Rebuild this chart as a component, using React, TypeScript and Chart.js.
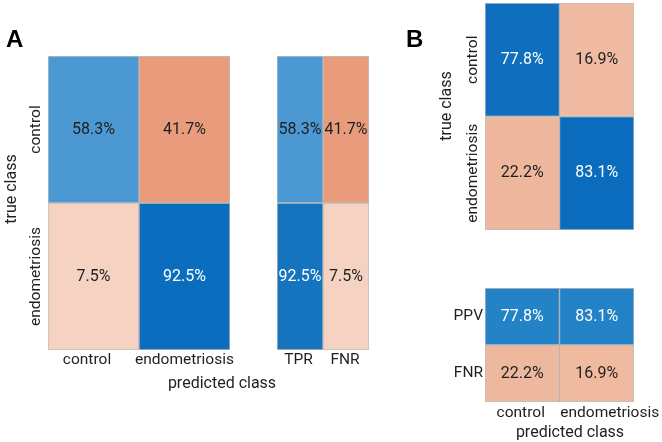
import React, { useEffect, useRef } from "react";
import { Chart, registerables } from "chart.js";

Chart.register(...registerables);

// ---------------- data ----------------
const classes = ["control", "endometriosis"];
const aMatrix = [
  [58.3, 41.7],
  [7.5, 92.5],
];
const aRateLabels = ["TPR", "FNR"];
const aRates = [
  [58.3, 41.7],
  [92.5, 7.5],
];
const bMatrix = [
  [77.8, 16.9],
  [22.2, 83.1],
];
const bRowLabels = ["PPV", "FNR"];
const bPred = [
  [77.8, 83.1],
  [22.2, 16.9],
];

// ---------------- styles ----------------
const aMatrixColors = [
  ["#4b98d2", "#e99c7c"],
  ["#f6d2c3", "#0b6dbd"],
];
const aRateColors = [
  ["#4b98d2", "#e99c7c"],
  ["#1474be", "#f6d2c3"],
];
const bMatrixColors = [
  ["#0f6fbe", "#f0bba2"],
  ["#eeb79d", "#0b6cbd"],
];
const bPredColors = [
  ["#2482c6", "#2381c5"],
  ["#eeb89e", "#f0baa1"],
];

const W = 662;
const H = 442;
const LABEL_FONT = "15.5px Roboto";
const TITLE_FONT = "16px Roboto";
const CELL_FONT = "16px Roboto";
const TEXT = "#1f1f1f";

type Txt = { text: string; x: number; y: number; font: string; rot?: boolean; align?: CanvasTextAlign; base?: CanvasTextBaseline };

type HeatCfg = {
  values: number[][];
  colors: string[][];
  colLabels: string[];
  showColLabels: boolean;
  colLabelDx?: number[];
  colLabelGap: number;
  rowLabels?: string[];
  rowLabelMode?: "rotated" | "right";
  area: { left: number; right: number; top: number; bottom: number };
  extra: Txt[];
};

function isDark(hex: string) {
  const r = parseInt(hex.slice(1, 3), 16);
  const g = parseInt(hex.slice(3, 5), 16);
  const b = parseInt(hex.slice(5, 7), 16);
  return 0.299 * r + 0.587 * g + 0.114 * b < 130;
}

function makeHeatmap(canvas: HTMLCanvasElement, cfg: HeatCfg) {
  const nRows = cfg.values.length;
  const datasets = cfg.values.map((row, r) => ({
    label: "row" + r,
    data: row.map(() => [r, r + 1] as [number, number]),
    backgroundColor: cfg.colors[r],
    borderColor: "rgba(110,110,110,0.45)",
    borderWidth: 1,
    borderSkipped: false as const,
    grouped: false,
    categoryPercentage: 1,
    barPercentage: 1,
  }));

  const textPlugin = {
    id: "heatText",
    afterDatasetsDraw(chart: any) {
      const ctx: CanvasRenderingContext2D = chart.ctx;
      const xs = chart.scales.x;
      const ys = chart.scales.y;
      const ca = chart.chartArea;
      ctx.save();
      // cell values
      cfg.values.forEach((row, r) => {
        const meta = chart.getDatasetMeta(r);
        row.forEach((v, c) => {
          const el = meta.data[c];
          const p = el.getProps(["x", "y", "base"], true);
          ctx.font = CELL_FONT;
          ctx.fillStyle = isDark(cfg.colors[r][c]) ? "#ffffff" : TEXT;
          ctx.textAlign = "center";
          ctx.textBaseline = "middle";
          ctx.fillText(v.toFixed(1) + "%", p.x, (p.y + p.base) / 2);
        });
      });
      // column tick labels
      ctx.fillStyle = TEXT;
      ctx.font = LABEL_FONT;
      ctx.textAlign = "center";
      ctx.textBaseline = "alphabetic";
      if (cfg.showColLabels) {
        cfg.colLabels.forEach((lab, c) => {
          const dx = cfg.colLabelDx ? cfg.colLabelDx[c] : 0;
          ctx.fillText(lab, xs.getPixelForValue(c) + dx, ca.bottom + cfg.colLabelGap);
        });
      }
      // row tick labels
      if (cfg.rowLabels) {
        cfg.rowLabels.forEach((lab, r) => {
          const cy = ys.getPixelForValue(r + 0.5);
          if (cfg.rowLabelMode === "rotated") {
            ctx.save();
            ctx.translate(ca.left - 12, cy);
            ctx.rotate(-Math.PI / 2);
            ctx.textAlign = "center";
            ctx.textBaseline = "middle";
            ctx.fillText(lab, 0, 0);
            ctx.restore();
          } else {
            ctx.textAlign = "right";
            ctx.textBaseline = "middle";
            ctx.fillText(lab, ca.left - 2, cy);
          }
        });
      }
      // extra texts (titles, panel letters)
      cfg.extra.forEach((t) => {
        ctx.font = t.font;
        ctx.fillStyle = t.font.includes("bold") ? "#000" : TEXT;
        ctx.save();
        ctx.translate(t.x, t.y);
        if (t.rot) ctx.rotate(-Math.PI / 2);
        ctx.textAlign = t.align || "center";
        ctx.textBaseline = t.base || "middle";
        ctx.fillText(t.text, 0, 0);
        ctx.restore();
      });
      ctx.restore();
    },
  };

  return new Chart(canvas, {
    type: "bar",
    data: { labels: cfg.colLabels, datasets: datasets as any },
    options: {
      animation: false,
      responsive: true,
      maintainAspectRatio: false,
      layout: {
        padding: {
          left: cfg.area.left,
          right: W - cfg.area.right,
          top: cfg.area.top,
          bottom: H - cfg.area.bottom,
        },
      },
      plugins: { legend: { display: false }, tooltip: { enabled: false } },
      scales: {
        x: { type: "category", display: false, offset: true, grid: { display: false } },
        y: { type: "linear", display: false, min: 0, max: nRows, reverse: true },
      },
    },
    plugins: [textPlugin],
  });
}

const configs: HeatCfg[] = [
  {
    values: aMatrix,
    colors: aMatrixColors,
    colLabels: classes,
    showColLabels: true,
    colLabelDx: [-6.5, 0],
    colLabelGap: 14,
    rowLabels: classes,
    rowLabelMode: "rotated",
    area: { left: 48, right: 230, top: 56, bottom: 350 },
    extra: [
      { text: "A", x: 6, y: 47, font: "bold 24px 'Liberation Sans'", align: "left", base: "alphabetic" },
      { text: "true class", x: 12, y: 189, font: TITLE_FONT, rot: true },
      { text: "predicted class", x: 222, y: 388, font: TITLE_FONT, base: "alphabetic" },
    ],
  },
  {
    values: aRates,
    colors: aRateColors,
    colLabels: aRateLabels,
    showColLabels: true,
    colLabelDx: [-1.5, -1],
    colLabelGap: 14,
    area: { left: 277, right: 369, top: 56, bottom: 350 },
    extra: [],
  },
  {
    values: bMatrix,
    colors: bMatrixColors,
    colLabels: classes,
    showColLabels: false,
    colLabelGap: 14,
    rowLabels: classes,
    rowLabelMode: "rotated",
    area: { left: 485, right: 634, top: 3, bottom: 230 },
    extra: [
      { text: "B", x: 406, y: 47, font: "bold 24px 'Liberation Sans'", align: "left", base: "alphabetic" },
      { text: "true class", x: 447, y: 106, font: TITLE_FONT, rot: true },
    ],
  },
  {
    values: bPred,
    colors: bPredColors,
    colLabels: classes,
    showColLabels: true,
    colLabelDx: [-1.5, 13],
    colLabelGap: 15,
    rowLabels: bRowLabels,
    rowLabelMode: "right",
    area: { left: 485, right: 634, top: 288, bottom: 402 },
    extra: [{ text: "predicted class", x: 570, y: 437, font: TITLE_FONT, base: "alphabetic" }],
  },
];

function Heat({ cfg }: { cfg: HeatCfg }) {
  const ref = useRef<HTMLCanvasElement | null>(null);
  useEffect(() => {
    if (!ref.current) return;
    const ch = makeHeatmap(ref.current, cfg);
    return () => ch.destroy();
  }, [cfg]);
  return (
    <div style={{ position: "absolute", left: 0, top: 0, width: W, height: H }}>
      <canvas ref={ref} />
    </div>
  );
}

export default function App() {
  return (
    <div style={{ position: "fixed", left: 0, top: 0, width: W, height: H, background: "#fff", overflow: "hidden" }}>
      {configs.map((c, i) => (
        <Heat key={i} cfg={c} />
      ))}
    </div>
  );
}
